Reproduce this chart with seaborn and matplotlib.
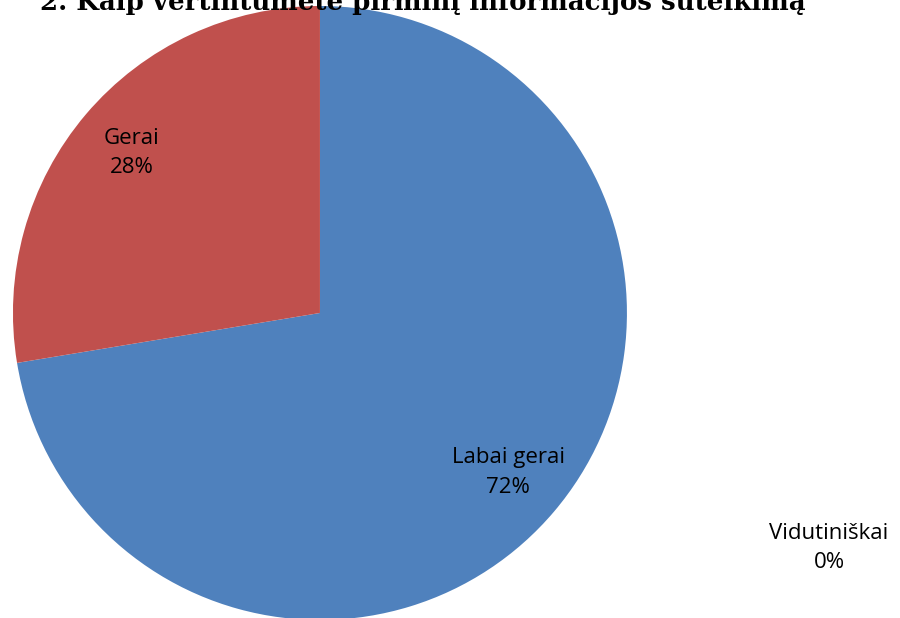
import matplotlib
matplotlib.use("Agg")
import matplotlib.pyplot as plt
import seaborn as sns

sns.set_theme(style="white")
plt.rcParams['font.family'] = ['Open Sans', 'DejaVu Sans']

title = "2. Kaip vertintumėte pirminį informacijos suteikimą"
categories = ["Labai gerai", "Gerai", "Vidutiniškai"]
values = [72.4, 27.6, 0]
pct_labels = ["72%", "28%", "0%"]
colors = ["#4F81BD", "#C0504D", "#9BBB59"]

fig = plt.figure(figsize=(9, 6.18), dpi=100)
ax = fig.add_axes([0.0144, -0.0032, 0.6822, 0.9935])

nonzero = [(c, v, p, col) for c, v, p, col in zip(categories, values, pct_labels, colors) if v > 0]
labels = [f"{c}\n{p}" for c, _, p, _ in nonzero]
wedges, texts = ax.pie([v for _, v, _, _ in nonzero], colors=[col for *_, col in nonzero],
                       startangle=90, counterclock=False, labels=labels,
                       labeldistance=0.805, radius=1,
                       wedgeprops=dict(linewidth=0),
                       textprops=dict(fontsize=16, color="#000000", ha="center", va="center",
                                      linespacing=1.55))
for t in texts:
    t.set_horizontalalignment("center")
ax.set_xlim(-1, 1)
ax.set_ylim(-1, 1)
ax.set_aspect("equal")
ax.axis("off")

zero = [(c, p) for c, v, p in zip(categories, values, pct_labels) if v == 0]
for c, p in zero:
    fig.text(829 / 900, 1 - 548 / 618, f"{c}\n{p}", ha="center", va="center",
             fontsize=16, linespacing=1.55, color="#000000")

fig.text(0.4694, 1 - 10 / 618, title, ha="center", va="baseline",
         fontsize=18.75, fontweight="bold", family=["DejaVu Serif"], color="#000000")

fig.savefig("out.png", dpi=100)
